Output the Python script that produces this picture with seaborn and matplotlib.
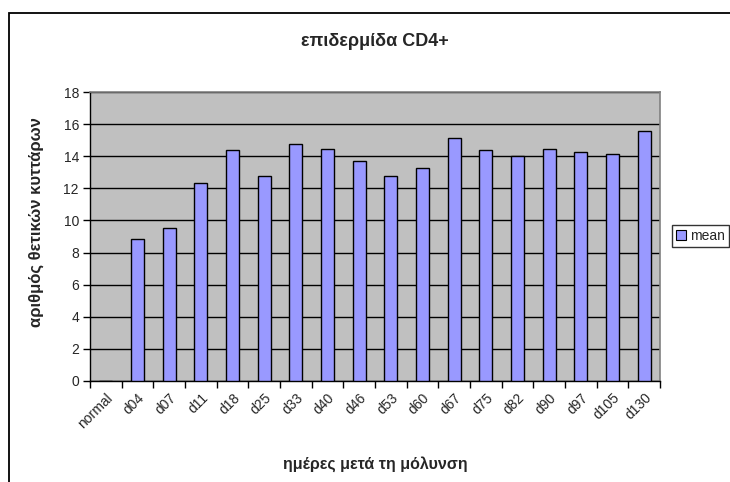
import matplotlib
matplotlib.use("Agg")
import matplotlib.pyplot as plt
from matplotlib.patches import Rectangle, Patch
from matplotlib.ticker import MultipleLocator, FixedLocator
import seaborn as sns
import numpy as np
import pandas as pd

sns.set_style("white")
plt.rcParams['font.family'] = ['Liberation Sans', 'DejaVu Sans']

# data
days = ["normal", "d04", "d07", "d11", "d18", "d25", "d33", "d40", "d46",
        "d53", "d60", "d67", "d75", "d82", "d90", "d97", "d105", "d130"]
mean = [0, 8.85, 9.54, 12.36, 14.37, 12.74, 14.77, 14.46, 13.71,
        12.74, 13.27, 15.14, 14.39, 14.02, 14.46, 14.25, 14.11, 15.58]

df = pd.DataFrame({"day": days, "mean": mean})

fig = plt.figure(figsize=(7.3, 4.82), dpi=100)
W, H = 730, 482
ax = fig.add_axes([90 / W, 1 - 381 / H, (660 - 90) / W, (381 - 92) / H])

ax.set_facecolor("#C0C0C0")
ax.set_axisbelow(True)
ax.yaxis.grid(True, color="black", lw=1)

sns.barplot(data=df, x="day", y="mean", order=days, color="#9999FF",
            edgecolor="black", linewidth=1, width=0.42, saturation=1,
            ax=ax, zorder=3)

ax.set_xlim(-0.5, len(days) - 0.5)
ax.set_ylim(0, 18)
ax.yaxis.set_major_locator(MultipleLocator(2))

# excel-like ticks: marks between categories, labels at centres
ax.xaxis.set_minor_locator(FixedLocator(np.arange(-0.5, len(days), 1)))
ax.tick_params(axis="x", which="major", length=0, labelsize=10, pad=7)
ax.tick_params(axis="x", which="minor", length=5, width=1, color="black", direction="out")
ax.tick_params(axis="y", length=5, width=1, color="black", direction="out", labelsize=10, pad=3)
ax.xaxis.set_ticks_position("bottom")
ax.yaxis.set_ticks_position("left")
for lbl in ax.get_xticklabels():
    lbl.set_rotation(45)
    lbl.set_ha("right")
    lbl.set_rotation_mode("anchor")

for s in ["left", "bottom"]:
    ax.spines[s].set_color("black")
    ax.spines[s].set_linewidth(1)
for s in ["top", "right"]:
    ax.spines[s].set_color("#808080")
    ax.spines[s].set_linewidth(1.2)

ax.set_xlabel("")
ax.set_ylabel("")
fig.text(375 / W, 1 - 41 / H, "επιδερμίδα CD4+", ha="center", va="center",
         fontsize=13, fontweight="bold")
fig.text(375 / W, 1 - 464 / H, "ημέρες μετά τη μόλυνση", ha="center", va="center",
         fontsize=11.5, fontweight="bold")
fig.text(36 / W, 1 - 222 / H, "αριθμός θετικών κυττάρων", ha="center", va="center",
         rotation=90, fontsize=12, fontweight="bold")

handle = Patch(facecolor="#9999FF", edgecolor="black", lw=0.8)
fig.legend([handle], ["mean"], loc="center left", bbox_to_anchor=(672 / W, 1 - 236 / H),
           frameon=True, fancybox=False, edgecolor="black", fontsize=10,
           handlelength=0.7, handleheight=0.7, handletextpad=0.3,
           borderpad=0.3, borderaxespad=0)

# chart area border (its right and bottom sides lie outside the image)
fig.patches.append(Rectangle((8.5 / W, -0.1), 1.2, 1.1 - 12.5 / H, transform=fig.transFigure,
                             fill=False, edgecolor="black", lw=1.3))

fig.savefig("out.png", dpi=100)
